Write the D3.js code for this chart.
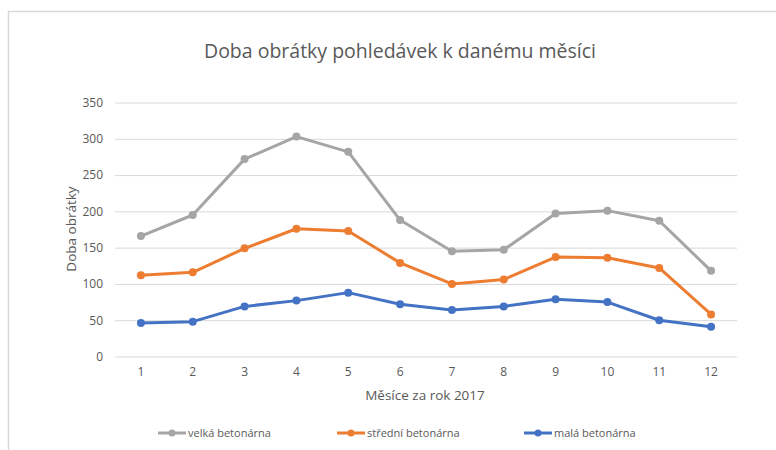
<!DOCTYPE html>
<html><head><meta charset="utf-8">
<script src="https://cdn.jsdelivr.net/npm/d3@7"></script>
<style>body{margin:0;background:#fff}svg{display:block;font-family:"Open Sans",sans-serif}</style>
</head><body><svg id="c" width="776" height="450"></svg>
<script>
const months = ["1","2","3","4","5","6","7","8","9","10","11","12"];
const yTicks = [0,50,100,150,200,250,300,350];
const velka = [166,195,272,303,282,188,145,147,197,201,187,118];
const stredni = [112,116,149,176,173,129,100,106,137,136,122,58];
const mala = [46,48,69,77,88,72,64,69,79,75,50,41];
const seriesNames = ["velká betonárna","střední betonárna","malá betonárna"];
const seriesColors = ["#a5a5a5","#ed7d31","#4472c4"];
const series = [velka, stredni, mala];

const svg = d3.select("#c");
svg.append("rect").attr("x",8.5).attr("y",11.5).attr("width",800).attr("height",500)
  .attr("fill","#fff").attr("stroke","#d9d9d9").attr("stroke-width",1.5);

const x = d3.scaleBand().domain(months).range([115,737]);
const y = d3.scaleLinear().domain([0,350]).range([356.5,102.5]);

svg.append("text").attr("x",400).attr("y",58).attr("text-anchor","middle")
  .attr("font-size",19.5).attr("fill","#595959").text("Doba obrátky pohledávek k danému měsíci");

const gy = svg.append("g").attr("transform","translate(115,0)")
  .call(d3.axisLeft(y).tickValues(yTicks).tickSize(-622).tickPadding(12));
gy.select(".domain").remove();
gy.selectAll(".tick line").attr("stroke","#d9d9d9").attr("stroke-width",1);
gy.selectAll(".tick text").attr("fill","#595959").attr("font-size",12).attr("font-family","Open Sans");

const gx = svg.append("g").attr("transform","translate(0,356.5)")
  .call(d3.axisBottom(x).tickSize(0).tickPadding(11));
gx.select(".domain").remove();
gx.selectAll(".tick text").attr("fill","#595959").attr("font-size",12).attr("font-family","Open Sans");

svg.append("text").attr("transform","translate(76,229) rotate(-90)").attr("text-anchor","middle")
  .attr("font-size",13.5).attr("fill","#595959").text("Doba obrátky");
svg.append("text").attr("x",425).attr("y",400).attr("text-anchor","middle")
  .attr("font-size",13.5).attr("fill","#595959").text("Měsíce za rok 2017");

const line = d3.line().x((d,i)=>x(months[i])+x.bandwidth()/2).y(d=>y(d));
series.forEach((s,k)=>{
  svg.append("path").datum(s).attr("d",line).attr("fill","none")
    .attr("stroke",seriesColors[k]).attr("stroke-width",3).attr("stroke-linejoin","round").attr("stroke-linecap","round");
  svg.append("g").selectAll("circle").data(s).join("circle")
    .attr("cx",(d,i)=>x(months[i])+x.bandwidth()/2).attr("cy",d=>y(d)).attr("r",4)
    .attr("fill",seriesColors[k]);
});

const legX = [158,337,524];
seriesNames.forEach((n,k)=>{
  const g = svg.append("g").attr("transform",`translate(${legX[k]},433)`);
  g.append("line").attr("x1",0).attr("x2",28).attr("stroke",seriesColors[k]).attr("stroke-width",3);
  g.append("circle").attr("cx",14).attr("r",3.5).attr("fill",seriesColors[k]);
  g.append("text").attr("x",30).attr("y",4).attr("font-size",11).attr("fill","#595959").text(n);
});
</script></body></html>
